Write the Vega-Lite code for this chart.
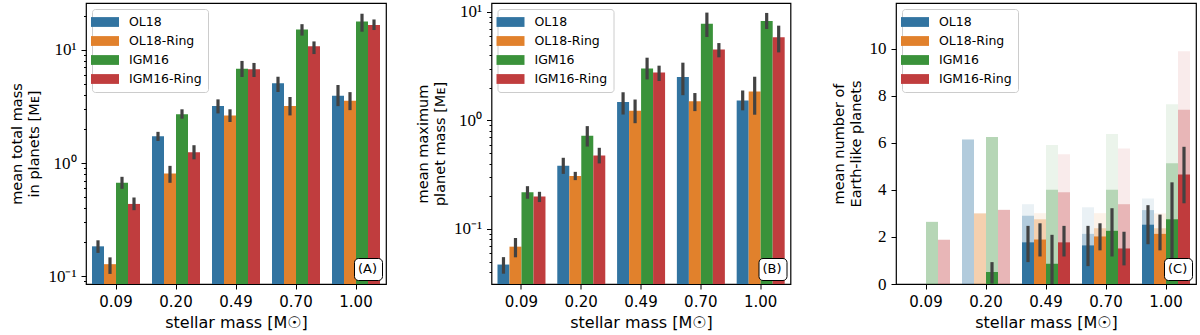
{
  "$schema": "https://vega.github.io/schema/vega-lite/v6.json",
  "padding": {"left": 9, "top": 2, "right": 0, "bottom": 0},
  "bounds": "flush",
  "spacing": 105.5,
  "config": {
    "view": {"stroke": "black", "strokeWidth": 1.2},
    "axis": {"domain": false, "grid": false, "tickColor": "black", "tickWidth": 1, "labelColor": "black", "titleColor": "black", "labelFont": "DejaVu Sans", "titleFont": "DejaVu Sans", "labelFontSize": 15, "titleFontSize": 14.5, "titleFontWeight": "normal", "tickSize": 5, "labelPadding": 5, "titleLineHeight": 17},
    "legend": {"labelFont": "DejaVu Sans", "labelColor": "black"}
  },
  "datasets": {
    "A": [
      {"mass": "0.09", "model": "OL18", "value": 0.184, "lo": 0.161, "hi": 0.208, "tag": "(A)"},
      {"mass": "0.09", "model": "OL18-Ring", "value": 0.128, "lo": 0.105, "hi": 0.147, "tag": "(A)"},
      {"mass": "0.09", "model": "IGM16", "value": 0.67, "lo": 0.593, "hi": 0.757, "tag": "(A)"},
      {"mass": "0.09", "model": "IGM16-Ring", "value": 0.436, "lo": 0.384, "hi": 0.497, "tag": "(A)"},
      {"mass": "0.20", "model": "OL18", "value": 1.73, "lo": 1.57, "hi": 1.89, "tag": "(A)"},
      {"mass": "0.20", "model": "OL18-Ring", "value": 0.81, "lo": 0.67, "hi": 0.946, "tag": "(A)"},
      {"mass": "0.20", "model": "IGM16", "value": 2.7, "lo": 2.47, "hi": 2.99, "tag": "(A)"},
      {"mass": "0.20", "model": "IGM16-Ring", "value": 1.25, "lo": 1.08, "hi": 1.44, "tag": "(A)"},
      {"mass": "0.49", "model": "OL18", "value": 3.19, "lo": 2.75, "hi": 3.66, "tag": "(A)"},
      {"mass": "0.49", "model": "OL18-Ring", "value": 2.64, "lo": 2.31, "hi": 2.99, "tag": "(A)"},
      {"mass": "0.49", "model": "IGM16", "value": 6.84, "lo": 5.77, "hi": 8.0, "tag": "(A)"},
      {"mass": "0.49", "model": "IGM16-Ring", "value": 6.76, "lo": 5.77, "hi": 7.68, "tag": "(A)"},
      {"mass": "0.70", "model": "OL18", "value": 5.07, "lo": 4.25, "hi": 5.8, "tag": "(A)"},
      {"mass": "0.70", "model": "OL18-Ring", "value": 3.19, "lo": 2.64, "hi": 3.84, "tag": "(A)"},
      {"mass": "0.70", "model": "IGM16", "value": 15.2, "lo": 13.4, "hi": 16.9, "tag": "(A)"},
      {"mass": "0.70", "model": "IGM16-Ring", "value": 10.8, "lo": 9.2, "hi": 11.9, "tag": "(A)"},
      {"mass": "1.00", "model": "OL18", "value": 3.94, "lo": 3.19, "hi": 4.9, "tag": "(A)"},
      {"mass": "1.00", "model": "OL18-Ring", "value": 3.56, "lo": 2.94, "hi": 4.24, "tag": "(A)"},
      {"mass": "1.00", "model": "IGM16", "value": 17.8, "lo": 14.5, "hi": 20.9, "tag": "(A)"},
      {"mass": "1.00", "model": "IGM16-Ring", "value": 16.6, "lo": 15.0, "hi": 18.6, "tag": "(A)"}
    ],
    "B": [
      {"mass": "0.09", "model": "OL18", "value": 0.047, "lo": 0.0387, "hi": 0.055, "tag": "(B)"},
      {"mass": "0.09", "model": "OL18-Ring", "value": 0.0687, "lo": 0.0548, "hi": 0.0826, "tag": "(B)"},
      {"mass": "0.09", "model": "IGM16", "value": 0.218, "lo": 0.19, "hi": 0.248, "tag": "(B)"},
      {"mass": "0.09", "model": "IGM16-Ring", "value": 0.199, "lo": 0.177, "hi": 0.22, "tag": "(B)"},
      {"mass": "0.20", "model": "OL18", "value": 0.382, "lo": 0.322, "hi": 0.453, "tag": "(B)"},
      {"mass": "0.20", "model": "OL18-Ring", "value": 0.307, "lo": 0.282, "hi": 0.336, "tag": "(B)"},
      {"mass": "0.20", "model": "IGM16", "value": 0.723, "lo": 0.575, "hi": 0.887, "tag": "(B)"},
      {"mass": "0.20", "model": "IGM16-Ring", "value": 0.476, "lo": 0.402, "hi": 0.56, "tag": "(B)"},
      {"mass": "0.49", "model": "OL18", "value": 1.48, "lo": 1.135, "hi": 1.82, "tag": "(B)"},
      {"mass": "0.49", "model": "OL18-Ring", "value": 1.23, "lo": 0.944, "hi": 1.56, "tag": "(B)"},
      {"mass": "0.49", "model": "IGM16", "value": 3.02, "lo": 2.39, "hi": 3.79, "tag": "(B)"},
      {"mass": "0.49", "model": "IGM16-Ring", "value": 2.77, "lo": 2.31, "hi": 3.2, "tag": "(B)"},
      {"mass": "0.70", "model": "OL18", "value": 2.51, "lo": 1.71, "hi": 3.41, "tag": "(B)"},
      {"mass": "0.70", "model": "OL18-Ring", "value": 1.5, "lo": 1.22, "hi": 1.79, "tag": "(B)"},
      {"mass": "0.70", "model": "IGM16", "value": 7.81, "lo": 5.88, "hi": 9.87, "tag": "(B)"},
      {"mass": "0.70", "model": "IGM16-Ring", "value": 4.5, "lo": 3.82, "hi": 5.17, "tag": "(B)"},
      {"mass": "1.00", "model": "OL18", "value": 1.53, "lo": 1.24, "hi": 1.89, "tag": "(B)"},
      {"mass": "1.00", "model": "OL18-Ring", "value": 1.85, "lo": 1.13, "hi": 2.53, "tag": "(B)"},
      {"mass": "1.00", "model": "IGM16", "value": 8.26, "lo": 6.97, "hi": 9.8, "tag": "(B)"},
      {"mass": "1.00", "model": "IGM16-Ring", "value": 5.84, "lo": 4.24, "hi": 7.48, "tag": "(B)"}
    ],
    "C": [
      {"mass": "0.09", "model": "IGM16", "level": "faint", "value": 2.64, "tag": "(C)"},
      {"mass": "0.09", "model": "IGM16-Ring", "level": "faint", "value": 1.88, "tag": "(C)"},
      {"mass": "0.20", "model": "OL18", "level": "faint", "value": 6.14, "tag": "(C)"},
      {"mass": "0.20", "model": "OL18-Ring", "level": "faint", "value": 3.0, "tag": "(C)"},
      {"mass": "0.20", "model": "IGM16", "level": "faint", "value": 6.25, "tag": "(C)"},
      {"mass": "0.20", "model": "IGM16-Ring", "level": "faint", "value": 3.15, "tag": "(C)"},
      {"mass": "0.49", "model": "OL18", "level": "faint", "value": 3.39, "tag": "(C)"},
      {"mass": "0.49", "model": "OL18-Ring", "level": "faint", "value": 3.01, "tag": "(C)"},
      {"mass": "0.49", "model": "IGM16", "level": "faint", "value": 5.91, "tag": "(C)"},
      {"mass": "0.49", "model": "IGM16-Ring", "level": "faint", "value": 5.51, "tag": "(C)"},
      {"mass": "0.70", "model": "OL18", "level": "faint", "value": 3.26, "tag": "(C)"},
      {"mass": "0.70", "model": "OL18-Ring", "level": "faint", "value": 3.01, "tag": "(C)"},
      {"mass": "0.70", "model": "IGM16", "level": "faint", "value": 6.37, "tag": "(C)"},
      {"mass": "0.70", "model": "IGM16-Ring", "level": "faint", "value": 5.76, "tag": "(C)"},
      {"mass": "1.00", "model": "OL18", "level": "faint", "value": 3.63, "tag": "(C)"},
      {"mass": "1.00", "model": "OL18-Ring", "level": "faint", "value": 3.0, "tag": "(C)"},
      {"mass": "1.00", "model": "IGM16", "level": "faint", "value": 7.64, "tag": "(C)"},
      {"mass": "1.00", "model": "IGM16-Ring", "level": "faint", "value": 9.89, "tag": "(C)"},
      {"mass": "0.09", "model": "IGM16", "level": "medium", "value": 2.64, "tag": "(C)"},
      {"mass": "0.09", "model": "IGM16-Ring", "level": "medium", "value": 1.88, "tag": "(C)"},
      {"mass": "0.20", "model": "OL18", "level": "medium", "value": 6.14, "tag": "(C)"},
      {"mass": "0.20", "model": "OL18-Ring", "level": "medium", "value": 3.0, "tag": "(C)"},
      {"mass": "0.20", "model": "IGM16", "level": "medium", "value": 6.25, "tag": "(C)"},
      {"mass": "0.20", "model": "IGM16-Ring", "level": "medium", "value": 3.15, "tag": "(C)"},
      {"mass": "0.49", "model": "OL18", "level": "medium", "value": 2.9, "tag": "(C)"},
      {"mass": "0.49", "model": "OL18-Ring", "level": "medium", "value": 2.75, "tag": "(C)"},
      {"mass": "0.49", "model": "IGM16", "level": "medium", "value": 4.01, "tag": "(C)"},
      {"mass": "0.49", "model": "IGM16-Ring", "level": "medium", "value": 3.9, "tag": "(C)"},
      {"mass": "0.70", "model": "OL18", "level": "medium", "value": 2.13, "tag": "(C)"},
      {"mass": "0.70", "model": "OL18-Ring", "level": "medium", "value": 2.37, "tag": "(C)"},
      {"mass": "0.70", "model": "IGM16", "level": "medium", "value": 4.01, "tag": "(C)"},
      {"mass": "0.70", "model": "IGM16-Ring", "level": "medium", "value": 3.39, "tag": "(C)"},
      {"mass": "1.00", "model": "OL18", "level": "medium", "value": 3.14, "tag": "(C)"},
      {"mass": "1.00", "model": "OL18-Ring", "level": "medium", "value": 2.37, "tag": "(C)"},
      {"mass": "1.00", "model": "IGM16", "level": "medium", "value": 5.13, "tag": "(C)"},
      {"mass": "1.00", "model": "IGM16-Ring", "level": "medium", "value": 7.4, "tag": "(C)"},
      {"mass": "0.20", "model": "IGM16", "level": "solid", "value": 0.51, "lo": 0.02, "hi": 0.93, "tag": "(C)"},
      {"mass": "0.49", "model": "OL18", "level": "solid", "value": 1.77, "lo": 0.93, "hi": 2.47, "tag": "(C)"},
      {"mass": "0.49", "model": "OL18-Ring", "level": "solid", "value": 1.89, "lo": 1.17, "hi": 2.58, "tag": "(C)"},
      {"mass": "0.49", "model": "IGM16", "level": "solid", "value": 0.86, "lo": 0.0, "hi": 2.09, "tag": "(C)"},
      {"mass": "0.49", "model": "IGM16-Ring", "level": "solid", "value": 1.77, "lo": 1.17, "hi": 2.47, "tag": "(C)"},
      {"mass": "0.70", "model": "OL18", "level": "solid", "value": 1.64, "lo": 0.76, "hi": 2.47, "tag": "(C)"},
      {"mass": "0.70", "model": "OL18-Ring", "level": "solid", "value": 2.02, "lo": 1.43, "hi": 2.58, "tag": "(C)"},
      {"mass": "0.70", "model": "IGM16", "level": "solid", "value": 2.26, "lo": 1.17, "hi": 3.22, "tag": "(C)"},
      {"mass": "0.70", "model": "IGM16-Ring", "level": "solid", "value": 1.51, "lo": 0.79, "hi": 2.22, "tag": "(C)"},
      {"mass": "1.00", "model": "OL18", "level": "solid", "value": 2.52, "lo": 1.69, "hi": 3.35, "tag": "(C)"},
      {"mass": "1.00", "model": "OL18-Ring", "level": "solid", "value": 2.13, "lo": 1.43, "hi": 2.95, "tag": "(C)"},
      {"mass": "1.00", "model": "IGM16", "level": "solid", "value": 2.75, "lo": 1.05, "hi": 4.32, "tag": "(C)"},
      {"mass": "1.00", "model": "IGM16-Ring", "level": "solid", "value": 4.65, "lo": 3.43, "hi": 5.83, "tag": "(C)"}
    ]
  },
  "resolve": {"scale": {"color": "independent", "strokeDash": "independent"}},
  "hconcat": [
    {
      "width": 300, "height": 281,
      "data": {"name": "A"},
      "layer": [
        {
          "mark": {"type": "bar"},
          "encoding": {
            "x": {"field": "mass", "type": "nominal", "title": "stellar mass [M☉]", "scale": {"paddingInner": 0.2, "paddingOuter": 0.1}, "axis": {"labelAngle": 0, "titlePadding": 5, "titleFontSize": 16}},
            "xOffset": {"field": "model", "type": "nominal", "scale": {"domain": ["OL18", "OL18-Ring", "IGM16", "IGM16-Ring"], "paddingInner": 0, "paddingOuter": 0}},
            "y": {"field": "value", "type": "quantitative", "stack": null, "title": ["mean total mass", "in planets [Mᴇ]"], "scale": {"type": "log", "domain": [0.0855, 26], "nice": false},
              "axis": {"values": [0.09, 0.1, 0.2, 0.3, 0.4, 0.5, 0.6, 0.7, 0.8, 0.9, 1, 2, 3, 4, 5, 6, 7, 8, 9, 10, 20], "labelOverlap": false, "labelFlush": false, "labelFont": "Liberation Serif", "labelFontSize": 17,
                "labelExpr": "datum.value == 0.1 ? '10⁻¹' : datum.value == 1 ? '10⁰' : datum.value == 10 ? '10¹' : ''",
                "tickSize": {"condition": {"test": "datum.value == 0.1 || datum.value == 1 || datum.value == 10", "value": 5}, "value": 2.5}, "titlePadding": 6}},
            "y2": {"datum": 0.0855},
            "color": {"field": "model", "type": "nominal", "scale": {"domain": ["OL18", "OL18-Ring", "IGM16", "IGM16-Ring"], "range": ["#3274a1", "#e1812c", "#3a923a", "#c03d3e"]},
              "legend": {"title": null, "orient": "top-left", "offset": 6, "padding": 6, "symbolType": "M-2,-0.7H2V0.7H-2Z", "symbolSize": 196, "symbolStrokeWidth": 0, "symbolOpacity": 1, "labelFontSize": 12.5, "labelOffset": 17, "rowPadding": 5, "strokeColor": "#cccccc", "fillColor": "rgba(255,255,255,0.8)", "cornerRadius": 3}},
            "strokeDash": {"field": "tag", "type": "nominal", "legend": {"title": null, "orient": "bottom-right", "offset": 4, "padding": 4, "symbolType": "circle", "symbolSize": 0, "symbolStrokeWidth": 0, "symbolOpacity": 0, "labelOffset": -13, "labelFontSize": 13, "strokeColor": "black", "cornerRadius": 4, "fillColor": "white"}}
          }
        },
        {
          "mark": {"type": "rule", "color": "#424242", "strokeWidth": 3.2},
          "encoding": {
            "x": {"field": "mass", "type": "nominal"},
            "xOffset": {"field": "model", "type": "nominal", "scale": {"domain": ["OL18", "OL18-Ring", "IGM16", "IGM16-Ring"], "paddingInner": 0, "paddingOuter": 0}},
            "y": {"field": "lo", "type": "quantitative", "scale": {"type": "log", "domain": [0.0855, 26], "nice": false}},
            "y2": {"field": "hi"}
          }
        }
      ]
    },
    {
      "width": 299, "height": 281,
      "data": {"name": "B"},
      "layer": [
        {
          "mark": {"type": "bar"},
          "encoding": {
            "x": {"field": "mass", "type": "nominal", "title": "stellar mass [M☉]", "scale": {"paddingInner": 0.2, "paddingOuter": 0.1}, "axis": {"labelAngle": 0, "titlePadding": 5, "titleFontSize": 16}},
            "xOffset": {"field": "model", "type": "nominal", "scale": {"domain": ["OL18", "OL18-Ring", "IGM16", "IGM16-Ring"], "paddingInner": 0, "paddingOuter": 0}},
            "y": {"field": "value", "type": "quantitative", "stack": null, "title": ["mean maximum", "planet mass [Mᴇ]"], "scale": {"type": "log", "domain": [0.0311, 12.1], "nice": false},
              "axis": {"values": [0.04, 0.05, 0.06, 0.07, 0.08, 0.09, 0.1, 0.2, 0.3, 0.4, 0.5, 0.6, 0.7, 0.8, 0.9, 1, 2, 3, 4, 5, 6, 7, 8, 9, 10], "labelOverlap": false, "labelFlush": false, "labelFont": "Liberation Serif", "labelFontSize": 17,
                "labelExpr": "datum.value == 0.1 ? '10⁻¹' : datum.value == 1 ? '10⁰' : datum.value == 10 ? '10¹' : ''",
                "tickSize": {"condition": {"test": "datum.value == 0.1 || datum.value == 1 || datum.value == 10", "value": 5}, "value": 2.5}, "titlePadding": 6}},
            "y2": {"datum": 0.0311},
            "color": {"field": "model", "type": "nominal", "scale": {"domain": ["OL18", "OL18-Ring", "IGM16", "IGM16-Ring"], "range": ["#3274a1", "#e1812c", "#3a923a", "#c03d3e"]},
              "legend": {"title": null, "orient": "top-left", "offset": 6, "padding": 6, "symbolType": "M-2,-0.7H2V0.7H-2Z", "symbolSize": 196, "symbolStrokeWidth": 0, "symbolOpacity": 1, "labelFontSize": 12.5, "labelOffset": 17, "rowPadding": 5, "strokeColor": "#cccccc", "fillColor": "rgba(255,255,255,0.8)", "cornerRadius": 3}},
            "strokeDash": {"field": "tag", "type": "nominal", "legend": {"title": null, "orient": "bottom-right", "offset": 4, "padding": 4, "symbolType": "circle", "symbolSize": 0, "symbolStrokeWidth": 0, "symbolOpacity": 0, "labelOffset": -13, "labelFontSize": 13, "strokeColor": "black", "cornerRadius": 4, "fillColor": "white"}}
          }
        },
        {
          "mark": {"type": "rule", "color": "#424242", "strokeWidth": 3.2},
          "encoding": {
            "x": {"field": "mass", "type": "nominal"},
            "xOffset": {"field": "model", "type": "nominal", "scale": {"domain": ["OL18", "OL18-Ring", "IGM16", "IGM16-Ring"], "paddingInner": 0, "paddingOuter": 0}},
            "y": {"field": "lo", "type": "quantitative", "scale": {"type": "log", "domain": [0.0311, 12.1], "nice": false}},
            "y2": {"field": "hi"}
          }
        }
      ]
    },
    {
      "width": 300, "height": 281,
      "data": {"name": "C"},
      "resolve": {"legend": {"color": "independent"}},
      "encoding": {
        "x": {"field": "mass", "type": "nominal", "title": "stellar mass [M☉]", "sort": ["0.09", "0.20", "0.49", "0.70", "1.00"], "scale": {"domain": ["0.09", "0.20", "0.49", "0.70", "1.00"], "paddingInner": 0.2, "paddingOuter": 0.1}, "axis": {"labelAngle": 0, "titlePadding": 5, "titleFontSize": 16}},
        "xOffset": {"field": "model", "type": "nominal", "scale": {"domain": ["OL18", "OL18-Ring", "IGM16", "IGM16-Ring"], "paddingInner": 0, "paddingOuter": 0}}
      },
      "layer": [
        {
          "transform": [{"filter": "datum.level == 'solid'"}],
          "mark": {"type": "bar", "opacity": 1},
          "encoding": {
            "y": {"field": "value", "type": "quantitative", "stack": null, "title": ["mean number of", "Earth-like planets"], "scale": {"domain": [0, 11.94], "nice": false},
              "axis": {"values": [0, 2, 4, 6, 8, 10], "labelFont": "Liberation Serif", "labelFontSize": 17, "titlePadding": 6}},
            "color": {"field": "model", "type": "nominal", "scale": {"domain": ["OL18", "OL18-Ring", "IGM16", "IGM16-Ring"], "range": ["#3274a1", "#e1812c", "#3a923a", "#c03d3e"]},
              "legend": {"title": null, "orient": "top-left", "offset": 6, "padding": 6, "symbolType": "M-2,-0.7H2V0.7H-2Z", "symbolSize": 196, "symbolStrokeWidth": 0, "symbolOpacity": 1, "labelFontSize": 12.5, "labelOffset": 17, "rowPadding": 5, "strokeColor": "#cccccc", "fillColor": "rgba(255,255,255,0.8)", "cornerRadius": 3}},
            "strokeDash": {"field": "tag", "type": "nominal", "legend": {"title": null, "orient": "bottom-right", "offset": 4, "padding": 4, "symbolType": "circle", "symbolSize": 0, "symbolStrokeWidth": 0, "symbolOpacity": 0, "labelOffset": -13, "labelFontSize": 13, "strokeColor": "black", "cornerRadius": 4, "fillColor": "white"}}
          }
        },
        {
          "transform": [{"filter": "datum.level == 'faint'"}],
          "mark": {"type": "bar", "opacity": 0.1},
          "encoding": {
            "y": {"field": "value", "type": "quantitative", "stack": null},
            "color": {"field": "model", "type": "nominal", "legend": null}
          }
        },
        {
          "transform": [{"filter": "datum.level == 'medium'"}],
          "mark": {"type": "bar", "opacity": 0.3},
          "encoding": {
            "y": {"field": "value", "type": "quantitative", "stack": null},
            "color": {"field": "model", "type": "nominal", "legend": null}
          }
        },
        {
          "transform": [{"filter": "datum.level == 'solid'"}],
          "mark": {"type": "rule", "color": "#424242", "strokeWidth": 3.2},
          "encoding": {
            "y": {"field": "lo", "type": "quantitative"},
            "y2": {"field": "hi"}
          }
        }
      ]
    }
  ]
}
